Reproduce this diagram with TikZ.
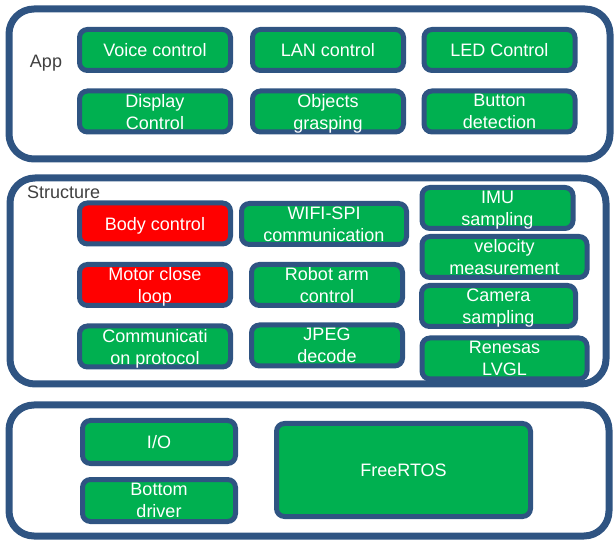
\documentclass[tikz,border=0pt]{standalone}
\usepackage{fontspec}
\setmainfont{Liberation Sans}
\def\applayer{(9,9) rectangle (610,159)}
\def\structlayer{(10,178) rectangle (606,384)}
\def\baselayer{(9,405) rectangle (609,536)}
\definecolor{layer edge}{RGB}{47,84,130}
\definecolor{module area}{RGB}{0,176,80}
\definecolor{label text}{RGB}{64,64,64}
\tikzset{layer/.style={draw=layer edge, line width=7pt, rounded corners=25pt},
	module/.style={draw=layer edge, fill=module area, line width=5pt, rounded corners=8pt,
		text=white, align=center, inner sep=0pt, text depth=0pt, minimum width=151pt, minimum height=41pt,
		font=\fontsize{18}{22}\selectfont},
	wide/.style={minimum width=165pt},
	alert/.style={fill=red},
	caption/.style={text=label text, inner sep=0pt, font=\fontsize{18}{22}\selectfont}}

\begin{document}
\begin{tikzpicture}[x=1pt,y=-1pt]
		\useasboundingbox (0,0) rectangle (614,540);
		\draw[layer] \applayer;
		\draw[layer] \structlayer;
		\draw[layer] \baselayer;
		\node[caption] (app) at (46,63) {App};
		\node[caption,anchor=west] (structure) at (27,192) {Structure};
		
		\node[module] (voice) at (155,50) {Voice control};
		\node[module] (lan) at (328,50) {LAN control};
		\node[module] (led) at (499.5,50) {LED Control};
		\node[module] (display) at (155,111.5) {Display\\Control};
		\node[module] (grasp) at (328,111.5) {Objects\\grasping};
		\node[module] (button) at (499.5,111.5) {Button\\detection};
		
		\node[module,alert] (body) at (155,223.5) {Body control};
		\node[module,alert] (motor) at (155,285) {Motor close\\loop};
		\node[module] (comm) at (155,346.5) {Communicati\\on protocol};
		\node[module,wide] (wifi) at (324,224) {WIFI-SPI\\communication};
		\node[module] (arm) at (327,285) {Robot arm\\control};
		\node[module] (jpeg) at (327,345.5) {JPEG\\decode};
		\node[module] (imu) at (497.5,208) {IMU\\sampling};
		\node[module,wide] (velocity) at (504.5,257) {velocity\\measurement};
		\node[module,minimum width=154pt] (camera) at (498.5,306) {Camera\\sampling};
		\node[module,wide] (lvgl) at (504.5,358.5) {Renesas\\LVGL};
		
		\node[module,minimum width=153pt,minimum height=43pt] (io) at (159,442) {I/O};
		\node[module,minimum width=153pt,minimum height=42pt] (driver) at (159,500.5) {Bottom\\driver};
		\node[module,minimum width=254pt,minimum height=93pt] (rtos) at (403.5,470) {FreeRTOS};
\end{tikzpicture}
\end{document}
